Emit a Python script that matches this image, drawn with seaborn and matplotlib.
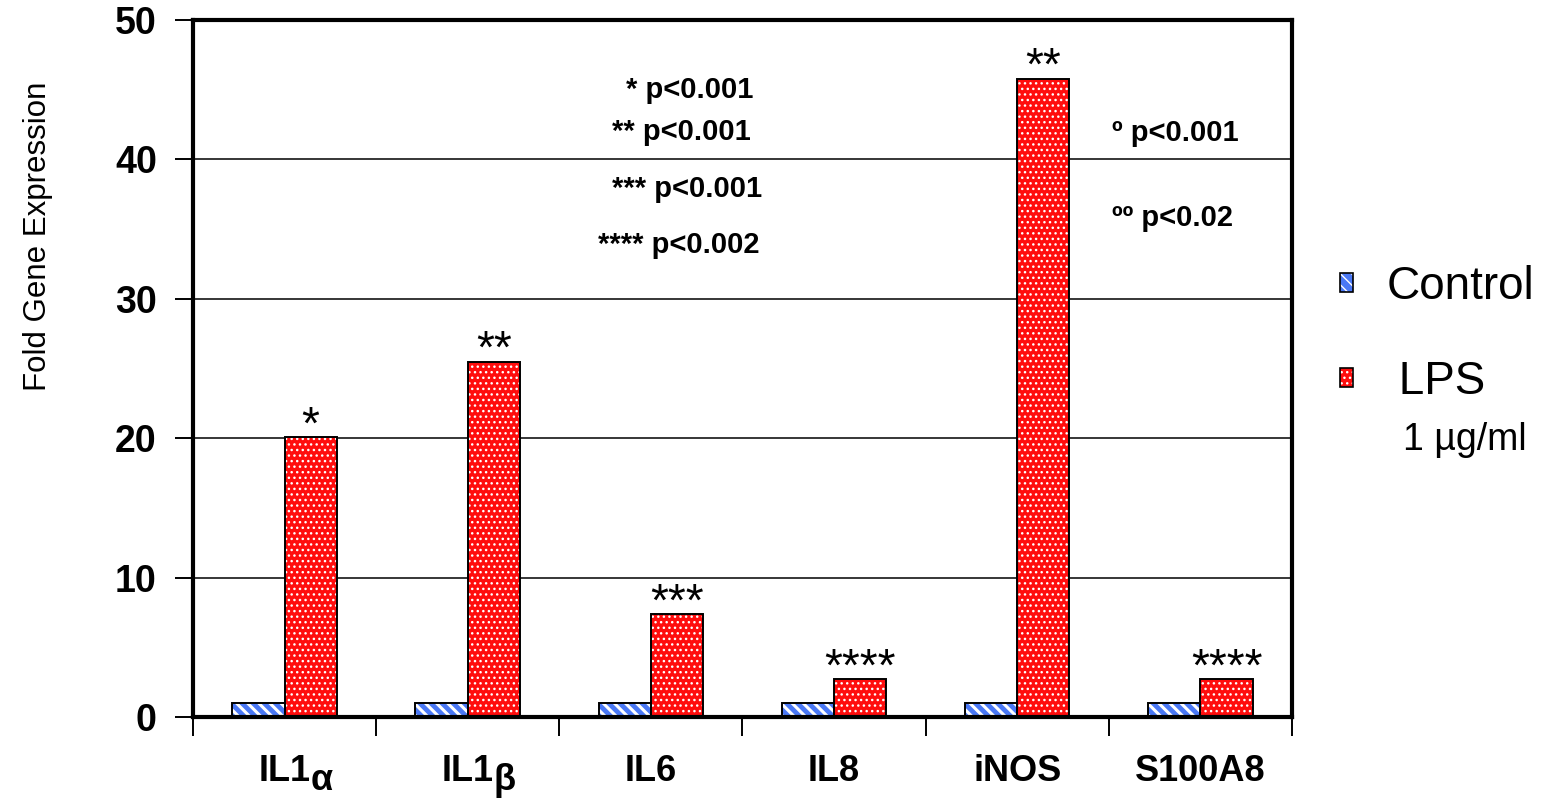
import matplotlib
matplotlib.use("Agg")
import matplotlib.pyplot as plt
from matplotlib.patches import Patch, Rectangle
from matplotlib.ticker import FixedLocator
from matplotlib.legend_handler import HandlerTuple
import seaborn as sns
import pandas as pd

# Fold change in gene expression, control vs LPS (1 µg/ml)
genes = ["IL1α", "IL1β", "IL6", "IL8", "iNOS", "S100A8"]
base_labels = ["IL1", "IL1", "IL6", "IL8", "iNOS", "S100A8"]
greek_suffix = ["α", "β", "", "", "", ""]
control = [1.0, 1.0, 1.0, 1.0, 1.0, 1.0]
lps = [20.1, 25.5, 7.4, 2.7, 45.8, 2.7]
stars = ["*", "**", "***", "****", "**", "****"]
yticks = [0, 10, 20, 30, 40, 50]
notes = ["* p<0.001", "** p<0.001", "*** p<0.001", "**** p<0.002",
         "º p<0.001", "ºº p<0.02"]

sns.set_theme(style="white")
plt.rcParams["font.family"] = ["Liberation Sans", "DejaVu Sans"]
plt.rcParams["text.color"] = "black"
plt.rcParams["axes.labelcolor"] = "black"
plt.rcParams["xtick.color"] = "black"
plt.rcParams["ytick.color"] = "black"

df = pd.DataFrame({
    "gene": genes * 2,
    "value": control + lps,
    "group": ["Control"] * len(genes) + ["LPS"] * len(genes),
})

fig = plt.figure(figsize=(15.46, 8.01), dpi=100)
ax = fig.add_axes([0.1248, 0.1049, 0.7109, 0.8701])

blue = "#4a78f5"
red = "#ff0d0d"
sns.barplot(data=df, x="gene", y="value", hue="group", order=genes,
            hue_order=["Control", "LPS"], palette=[blue, red],
            width=0.57, ax=ax, legend=False, saturation=1)

hatch_style = {"Control": ("\\\\\\", 2.2), "LPS": ("...", 1.0)}
n = len(genes)
for i, bar in enumerate(ax.patches[:2 * n]):
    grp = "Control" if i < n else "LPS"
    h, lw = hatch_style[grp]
    bar.set_hatch(h)
    bar.set_edgecolor("white")
    bar.set_linewidth(0)
    if hasattr(bar, "set_hatch_linewidth"):
        bar.set_hatch_linewidth(lw)
    ax.add_patch(Rectangle(bar.get_xy(), bar.get_width(), bar.get_height(),
                           fill=False, edgecolor="black", linewidth=1.4, zorder=3))

# Significance markers above LPS bars
for i, (v, s) in enumerate(zip(lps, stars)):
    bar = ax.patches[n + i]
    ax.annotate(s, (bar.get_x() + bar.get_width() / 2, v), xytext=(0, -1),
                textcoords="offset points", ha="center", va="baseline",
                fontsize=33, color="black")

ax.set_ylim(0, 50)
ax.set_xlim(-0.5, n - 0.5)
ax.set_yticks(yticks)
ax.set_yticklabels([str(t) for t in yticks], fontsize=27, fontweight="bold")
ax.yaxis.grid(True, color="black", linewidth=1.1)
ax.xaxis.grid(False)
ax.set_axisbelow(True)
ax.tick_params(axis="y", direction="out", length=13, width=1.4, pad=13, left=True)

ax.set_xticks(range(n))
ax.set_xticklabels(base_labels, fontsize=26, fontweight="bold")
ax.xaxis.set_minor_locator(FixedLocator([k - 0.5 for k in range(n + 1)]))
ax.tick_params(axis="x", which="major", length=0, pad=27)
ax.tick_params(axis="x", which="minor", direction="out", length=14, width=1.4,
               bottom=True)

# Greek subscripts hang off the right edge of the IL1 labels
for tick, suffix in zip(ax.xaxis.get_major_ticks(), greek_suffix):
    if suffix:
        ax.annotate(suffix, xy=(1.0, -0.02), xycoords=tick.label1,
                    ha="left", va="baseline", fontsize=26, fontweight="bold",
                    annotation_clip=False)

for sp in ax.spines.values():
    sp.set_visible(True)
    sp.set_color("black")
    sp.set_linewidth(3)

ax.set_xlabel("")
ax.set_ylabel("Fold Gene Expression", fontsize=22.5)
ax.yaxis.set_label_coords(-0.1274, 0.689)

# p-value key
note_pos = [(0.4463, 0.8876), (0.4405, 0.8352), (0.4444, 0.7640),
            (0.4392, 0.6941), (0.7600, 0.8340), (0.7587, 0.7278)]
for txt, (x, y) in zip(notes, note_pos):
    fig.text(x, y, txt, fontsize=21, fontweight="bold", ha="center", va="center")

# Legend
handles = [(Patch(facecolor=blue, edgecolor="white", hatch="\\\\\\", linewidth=0),
            Patch(fill=False, edgecolor="black", linewidth=1.2)),
           (Patch(facecolor=red, edgecolor="white", hatch="...", linewidth=0),
            Patch(fill=False, edgecolor="black", linewidth=1.2))]
fig.legend(handles, ["Control", " LPS"], loc="upper left",
           bbox_to_anchor=(0.8665, 0.669), frameon=False, fontsize=33,
           handlelength=0.3, handleheight=0.26, handletextpad=0.72,
           labelspacing=1.11, borderpad=0, borderaxespad=0,
           handler_map={tuple: HandlerTuple(ndivide=1, pad=0)})
fig.text(0.9476, 0.4507, "1 µg/ml", fontsize=27, ha="center", va="center")

fig.savefig("out.png", dpi=100)
